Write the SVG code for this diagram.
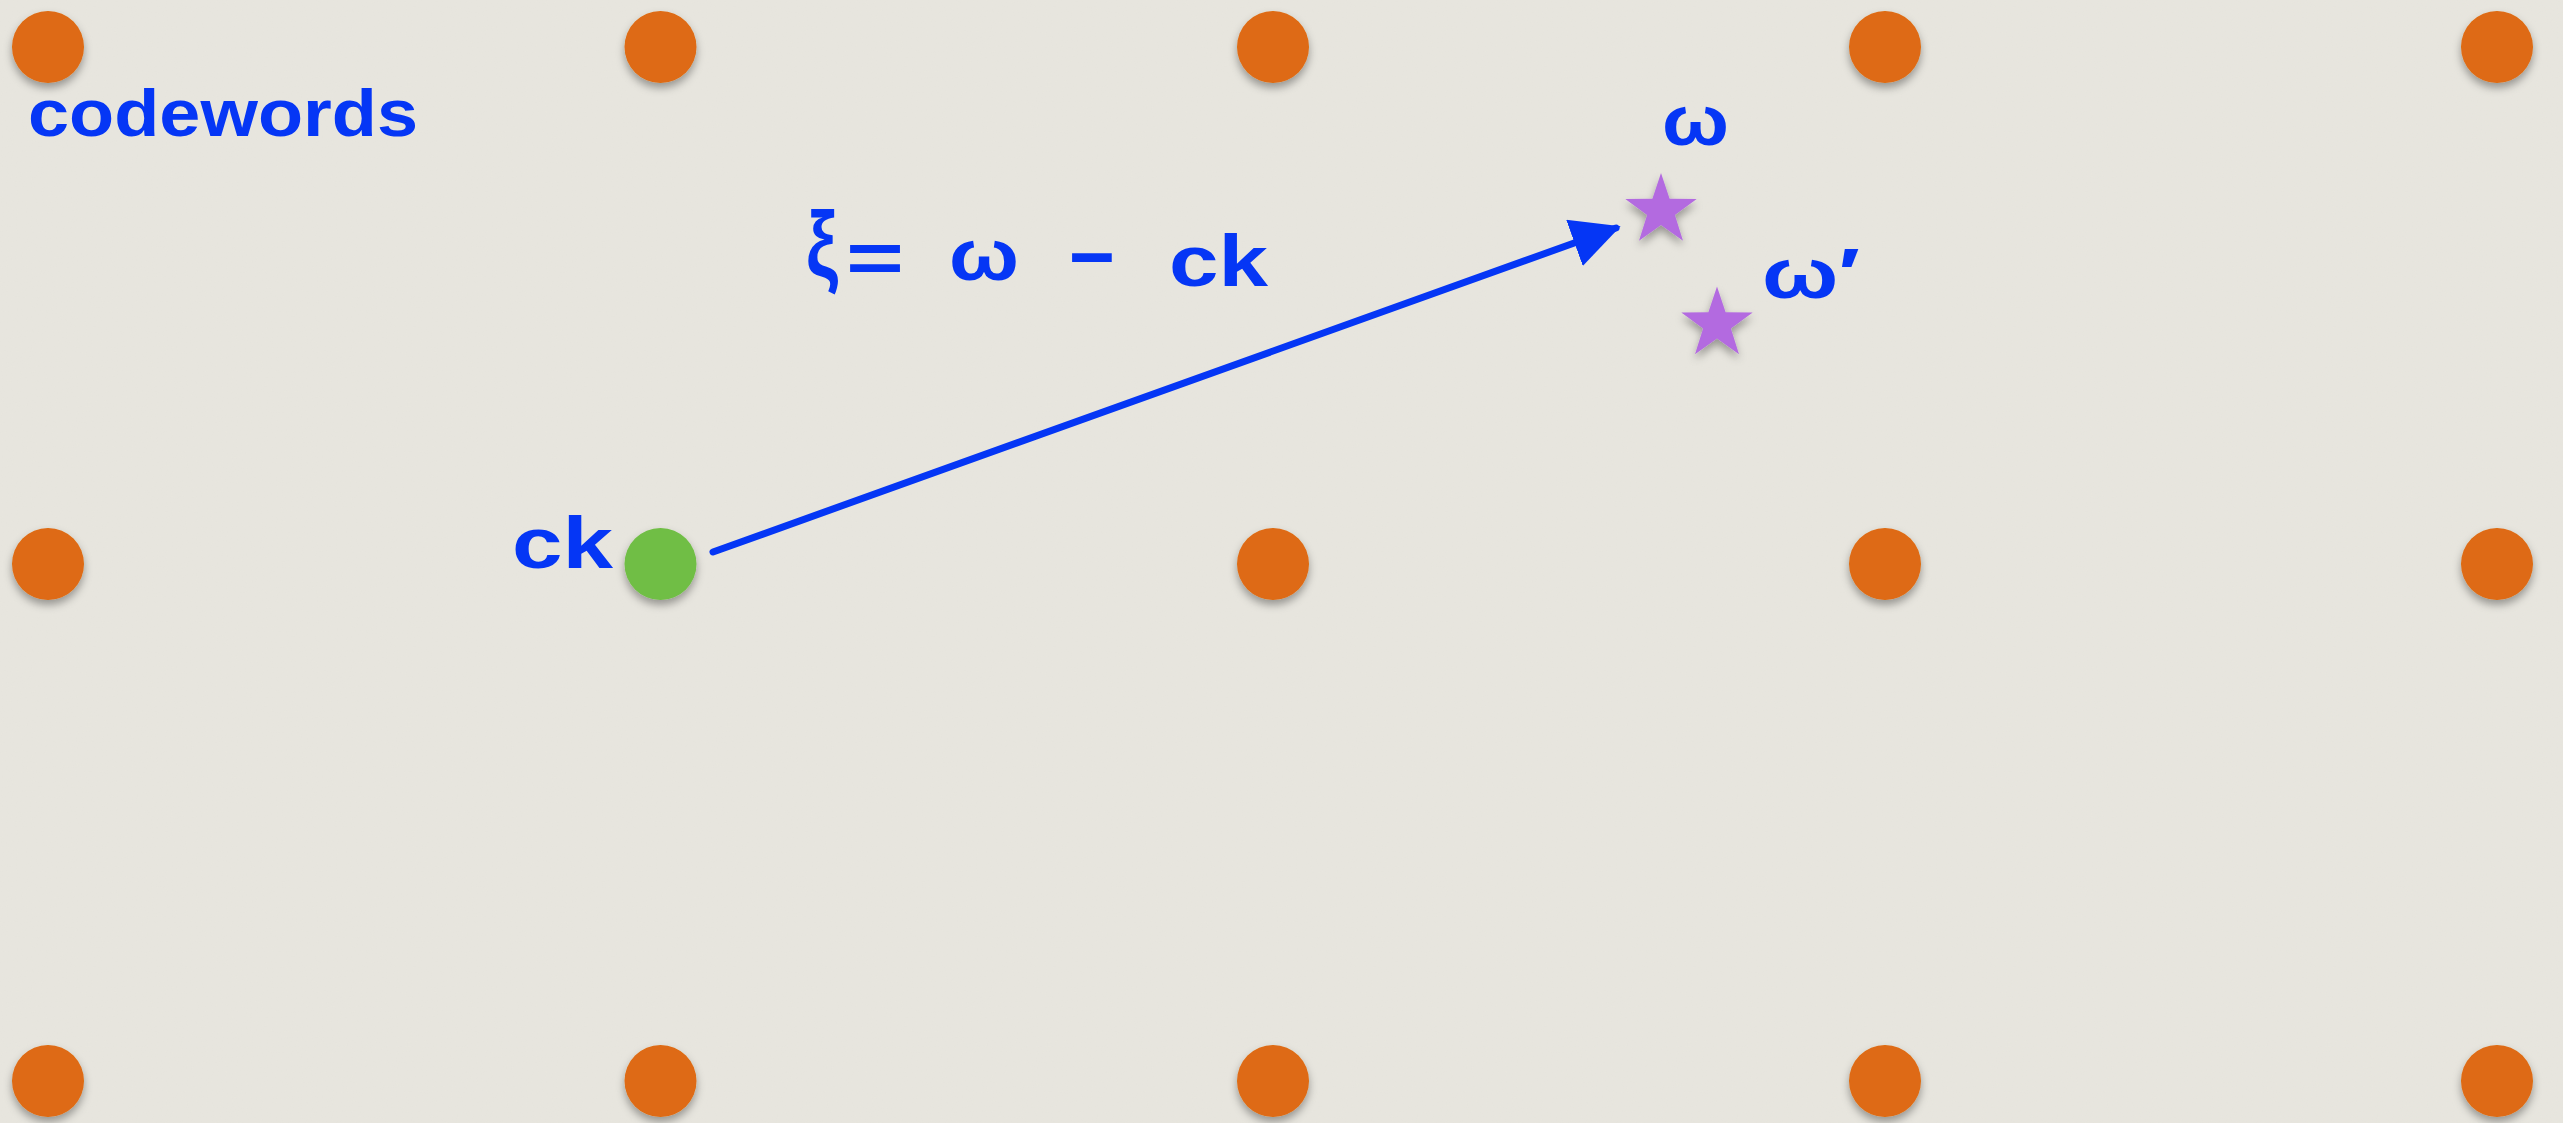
<svg xmlns="http://www.w3.org/2000/svg" width="2563" height="1123" viewBox="0 0 2563 1123">
<defs>
<filter id="sh" x="-50%" y="-50%" width="200%" height="200%">
<feDropShadow dx="0" dy="5" stdDeviation="4" flood-color="#000" flood-opacity="0.35"/>
</filter>
<filter id="paper" x="0" y="0" width="100%" height="100%">
<feTurbulence type="fractalNoise" baseFrequency="0.8" numOctaves="2" seed="3" result="n"/>
<feColorMatrix in="n" type="matrix" values="0 0 0 0 0.5  0 0 0 0 0.5  0 0 0 0 0.48  0 0 0 0.06 0" result="t"/>
<feComposite in="t" in2="SourceGraphic" operator="over"/>
</filter>
<marker id="ah" viewBox="0 0 10 10" refX="9" refY="5" markerWidth="7" markerHeight="7" markerUnits="strokeWidth" orient="auto">
<path d="M0,0 L10,5 L0,10 z" fill="#0536F5"/>
</marker>
<polygon id="star" points="0,-37.5 8.6,-11.8 35.7,-11.6 13.9,4.5 22,30.3 0,14.6 -22,30.3 -13.9,4.5 -35.7,-11.6 -8.6,-11.8"/>
</defs>
<style>
.code{fill:#DE6B12;filter:url(#sh)}
.hand{fill:#0536F5;font-family:"Liberation Sans","DejaVu Sans",sans-serif;font-weight:bold}
.star{fill:#B36BE0;filter:url(#sh)}
</style>
<rect width="2563" height="1123" fill="#E8E6DF" filter="url(#paper)"/>
<g id="connectors">
<line x1="713" y1="552" x2="1616" y2="228" stroke="#0536F5" stroke-width="7" stroke-linecap="round" marker-end="url(#ah)"/>
</g>
<g id="codewords">
<circle id="c00" class="code" cx="48" cy="47" r="36"/>
<circle id="c01" class="code" cx="660.5" cy="47" r="36"/>
<circle id="c02" class="code" cx="1273" cy="47" r="36"/>
<circle id="c03" class="code" cx="1885" cy="47" r="36"/>
<circle id="c04" class="code" cx="2497" cy="47" r="36"/>
<circle id="c10" class="code" cx="48" cy="564" r="36"/>
<circle id="ck" fill="#6FBE44" filter="url(#sh)" cx="660.5" cy="564" r="36"/>
<circle id="c12" class="code" cx="1273" cy="564" r="36"/>
<circle id="c13" class="code" cx="1885" cy="564" r="36"/>
<circle id="c14" class="code" cx="2497" cy="564" r="36"/>
<circle id="c20" class="code" cx="48" cy="1081" r="36"/>
<circle id="c21" class="code" cx="660.5" cy="1081" r="36"/>
<circle id="c22" class="code" cx="1273" cy="1081" r="36"/>
<circle id="c23" class="code" cx="1885" cy="1081" r="36"/>
<circle id="c24" class="code" cx="2497" cy="1081" r="36"/>
</g>
<g id="w-star"><use href="#star" class="star" x="1661" y="210.5"/></g>
<g id="w2-star"><use href="#star" class="star" x="1717" y="324"/></g>
<g id="labels">
<text class="hand" x="28" y="136" font-size="66" textLength="390" lengthAdjust="spacingAndGlyphs">codewords</text>
<text class="hand" x="1662" y="145" font-size="70" textLength="67" lengthAdjust="spacingAndGlyphs">ω</text>
<text class="hand" x="1762" y="298" font-size="70" textLength="98" lengthAdjust="spacingAndGlyphs">ω′</text>
<text class="hand" x="512" y="568" font-size="72" textLength="101" lengthAdjust="spacingAndGlyphs">ck</text>
<text class="hand" x="806" y="276" font-size="92" font-weight="normal" textLength="32" lengthAdjust="spacingAndGlyphs">ξ</text>
<text class="hand" font-size="72"><tspan x="846" y="282" textLength="58" lengthAdjust="spacingAndGlyphs">=</tspan><tspan x="949" y="280" textLength="70" lengthAdjust="spacingAndGlyphs">ω</tspan><tspan x="1066" y="276" textLength="52" lengthAdjust="spacingAndGlyphs">-</tspan><tspan x="1169" y="286" textLength="99" lengthAdjust="spacingAndGlyphs">ck</tspan></text>
</g>
</svg>
